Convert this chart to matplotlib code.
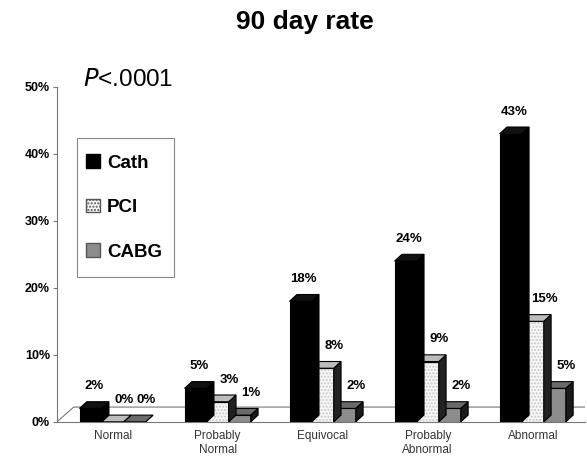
import numpy as np
import matplotlib.pyplot as plt
from matplotlib.patches import Polygon, Patch, Rectangle

plt.rcParams['font.family'] = ['Liberation Sans', 'DejaVu Sans']

# data
categories = ["Normal", "Probably\nNormal", "Equivocal", "Probably\nAbnormal", "Abnormal"]
cath = [2, 5, 18, 24, 43]
pci = [0, 3, 8, 9, 15]
cabg = [0, 1, 2, 2, 5]
series_names = ["Cath", "PCI", "CABG"]

fig = plt.figure(figsize=(5.87, 4.57), dpi=100)
ax = fig.add_axes([0.097, 0.077, 0.90, 0.733])

x = np.arange(len(categories))
w = 0.21
dx, dy = 0.07, 1.0  # depth offset (data units)

styles = [
    dict(face="black", top="#111111", side="#000000", hatch=None),
    dict(face="#f7f7f7", top="#bdbdbd", side="#222222", hatch="....."),
    dict(face="#8c8c8c", top="#6a6a6a", side="#1a1a1a", hatch=None),
]
offsets = [-w, 0.0, w]
label_shift = [0.03, 0.11, 0.11]
all_vals = [cath, pci, cabg]

# draw right-most series first so left bars overlap them
for s in [2, 1, 0]:
    st = styles[s]
    vals = all_vals[s]
    xs = x + offsets[s]
    z = 3 + (2 - s)
    bars = ax.bar(xs, vals, width=w, color=st["face"], edgecolor="black",
                  linewidth=0.8, zorder=z)
    if st["hatch"]:
        for b in bars:
            b.set_hatch(st["hatch"])
            b.set_edgecolor("#c8c8c8")
            b.set_linewidth(0)
            ax.add_patch(Rectangle(b.get_xy(), b.get_width(), b.get_height(),
                                   fill=False, edgecolor="black", lw=0.8, zorder=z))
    for b, v in zip(bars, vals):
        x0 = b.get_x()
        x1 = x0 + b.get_width()
        top = Polygon([(x0, v), (x0 + dx, v + dy), (x1 + dx, v + dy), (x1, v)],
                      closed=True, facecolor=st["top"], edgecolor="black", lw=0.8, zorder=z)
        side = Polygon([(x1, 0), (x1 + dx, dy), (x1 + dx, v + dy), (x1, v)],
                       closed=True, facecolor=st["side"], edgecolor="black", lw=0.8, zorder=z)
        ax.add_patch(side)
        ax.add_patch(top)
        ax.text(x0 + b.get_width() / 2 + label_shift[s], v + 3.3, f"{v}%",
                ha="center", va="center", fontsize=9.5, fontweight="bold", zorder=10)

# 3D floor
xmin, xmax = -0.53, 4.5
ax.plot([xmin, xmin + 0.16, xmax], [0, 2.2, 2.2], color="#777777", lw=0.8, zorder=1)
ax.plot([xmin, xmax], [0, 0], color="#777777", lw=0.8, zorder=1, clip_on=False)

ax.set_xlim(xmin, xmax)
ax.set_ylim(0, 50)
ax.set_yticks(np.arange(0, 51, 10))
ax.set_yticklabels([f"{v}%" for v in range(0, 51, 10)], fontsize=9, fontweight="bold")
ax.set_xticks(x)
ax.set_xticklabels(categories, fontsize=8.5, color="#333333")
ax.tick_params(axis="x", length=0, pad=6)
ax.tick_params(axis="y", length=3, color="#777777", pad=2)
for sp in ["top", "right", "bottom"]:
    ax.spines[sp].set_visible(False)
ax.spines["left"].set_color("#777777")
ax.spines["left"].set_linewidth(0.8)

fig.text(0.52, 0.952, "90 day rate", ha="center", va="center",
         fontsize=19, fontweight="bold")
ax.text(0.05, 1.02, r"$\it{P}$<.0001", transform=ax.transAxes, fontsize=17.5,
        ha="left", va="center")

# legend (frame drawn separately so it can be narrow but tall)
handles = [Patch(facecolor="black", edgecolor="black"),
           Patch(facecolor="#f7f7f7", edgecolor="#555555", hatch="....."),
           Patch(facecolor="#8c8c8c", edgecolor="#555555")]
ax.legend(handles, series_names, loc="center left", bbox_to_anchor=(0.038, 0.64),
          borderaxespad=0, prop={"weight": "bold", "size": 13.5},
          labelspacing=1.45, handlelength=0.75, handleheight=0.75, handletextpad=0.35,
          borderpad=0.5, frameon=False)
ax.add_patch(Rectangle((0.038, 0.432), 0.184, 0.415, transform=ax.transAxes,
                       fill=False, edgecolor="#888888", lw=0.8, zorder=20))

fig.savefig("out.png", dpi=100)
